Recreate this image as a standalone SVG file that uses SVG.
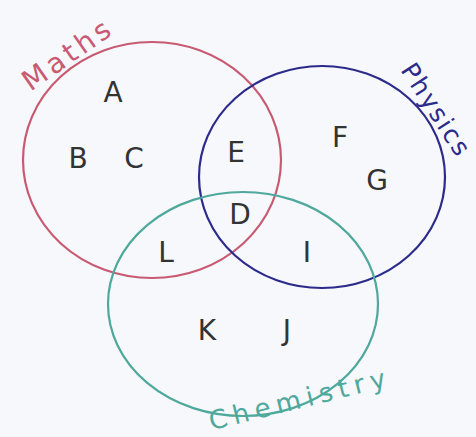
<svg xmlns="http://www.w3.org/2000/svg" width="476" height="437" viewBox="0 0 476 437">
<style>
.set{fill:none;stroke-width:2.2}
.lt{font-family:"DejaVu Sans",sans-serif;font-size:28px;fill:#333;text-anchor:middle;dominant-baseline:central}
.nm{font-family:"DejaVu Sans",sans-serif;text-anchor:middle;dominant-baseline:central}
</style>
<rect width="476" height="437" fill="#f6f8fb"/>
<g id="connectors"/>
<g id="maths">
<ellipse class="set" cx="152" cy="160" rx="129" ry="118" stroke="#c85a72"/>
<text class="nm" fill="#c85a72" font-size="28" letter-spacing="4" transform="translate(68,54) rotate(-35)">Maths</text>
</g>
<g id="physics">
<ellipse class="set" cx="322" cy="177" rx="123" ry="111" stroke="#2c2a8a"/>
<text class="nm" fill="#2c2a8a" font-size="25" letter-spacing="2" transform="translate(436,110) rotate(57)">Physics</text>
</g>
<g id="chemistry">
<ellipse class="set" cx="243" cy="304" rx="135" ry="112" stroke="#4fa89c"/>
<text class="nm" fill="#4fa89c" font-size="26" letter-spacing="6" transform="translate(300,399) rotate(-14)">Chemistry</text>
</g>
<g id="elements">
<text class="lt" x="113" y="92">A</text>
<text class="lt" x="78" y="158">B</text>
<text class="lt" x="134" y="158">C</text>
<text class="lt" x="236" y="152">E</text>
<text class="lt" x="340" y="137">F</text>
<text class="lt" x="377" y="180">G</text>
<text class="lt" x="240" y="214">D</text>
<text class="lt" x="166" y="252">L</text>
<text class="lt" x="307" y="252">I</text>
<text class="lt" x="207" y="330">K</text>
<text class="lt" x="287" y="330">J</text>
</g>
</svg>
